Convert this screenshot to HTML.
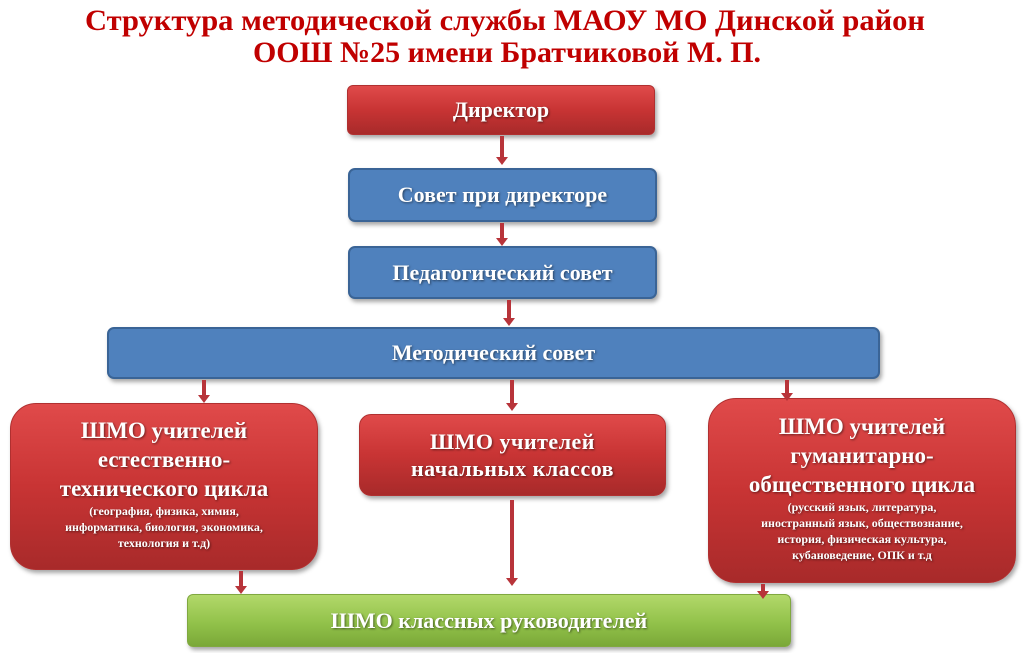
<!DOCTYPE html>
<html><head><meta charset="utf-8"><style>
body{margin:0;width:1024px;height:653px;background:#fff;position:relative;overflow:hidden;font-family:"Liberation Serif",serif;}
.b{position:absolute;box-sizing:border-box;display:flex;flex-direction:column;align-items:center;justify-content:center;text-align:center;color:#fff;font-weight:bold;text-shadow:1px 1px 2px rgba(0,0,0,.5);box-shadow:2px 3px 4px rgba(0,0,0,.35);}
.r{background:linear-gradient(#e04a4a,#c83434 50%,#a82a2a);border:1px solid #b03030;}
.u{background:#4f81bd;border:2px solid #3a6496;}
.g{background:linear-gradient(#b2d86a,#92c24a 55%,#7aa838);border:1px solid #80a840;}
.a{position:absolute;width:4px;background:#b8343a;}
.a:after{content:"";position:absolute;left:-4px;bottom:-7px;border-left:6px solid transparent;border-right:6px solid transparent;border-top:8px solid #b8343a;}
.s{font-size:12px;line-height:16px;}
</style></head><body>
<svg style="position:absolute;left:0;top:0" width="1024" height="80">
<text x="85" y="30" textLength="840" lengthAdjust="spacingAndGlyphs" font-family="Liberation Serif" font-weight="bold" font-size="30" fill="#c00000">Структура методической службы  МАОУ МО Динской район</text>
<text x="253" y="62" textLength="508" lengthAdjust="spacingAndGlyphs" font-family="Liberation Serif" font-weight="bold" font-size="30" fill="#c00000">ООШ №25 имени Братчиковой М. П.</text>
</svg>
<div class="b r" style="left:347px;top:85px;width:308px;height:50px;border-radius:6px;font-size:22px;">Директор</div>
<div class="b u" style="left:348px;top:168px;width:309px;height:54px;border-radius:7px;font-size:22px;">Совет при директоре</div>
<div class="b u" style="left:348px;top:246px;width:309px;height:53px;border-radius:7px;font-size:22px;">Педагогический совет</div>
<div class="b u" style="left:107px;top:327px;width:773px;height:52px;border-radius:7px;font-size:22px;">Методический совет</div>
<div class="b r" style="left:10px;top:403px;width:308px;height:167px;border-radius:26px;font-size:23px;line-height:29px;padding-bottom:6px;">ШМО учителей<br>естественно-<br>технического цикла<div class="s">(география, физика, химия,<br>информатика, биология, экономика,<br>технология и т.д)</div></div>
<div class="b r" style="left:359px;top:414px;width:307px;height:82px;border-radius:12px;font-size:22px;line-height:27px;letter-spacing:0.5px;">ШМО учителей<br>начальных классов</div>
<div class="b r" style="left:708px;top:398px;width:308px;height:185px;border-radius:28px;font-size:23px;line-height:29px;padding-bottom:6px;">ШМО учителей<br>гуманитарно-<br>общественного цикла<div class="s">(русский язык, литература,<br>иностранный язык, обществознание,<br>история, физическая культура,<br>кубановедение, ОПК и т.д</div></div>
<div class="b g" style="left:187px;top:594px;width:604px;height:53px;border-radius:6px;font-size:22px;">ШМО классных руководителей</div>
<div class="a" style="left:500px;top:136px;height:22px"></div>
<div class="a" style="left:500px;top:223px;height:16px"></div>
<div class="a" style="left:507px;top:300px;height:19px"></div>
<div class="a" style="left:202px;top:380px;height:16px"></div>
<div class="a" style="left:510px;top:380px;height:24px"></div>
<div class="a" style="left:785px;top:380px;height:14px"></div>
<div class="a" style="left:510px;top:500px;height:79px"></div>
<div class="a" style="left:239px;top:571px;height:16px"></div>
<div class="a" style="left:761px;top:584px;height:8px"></div>
</body></html>
